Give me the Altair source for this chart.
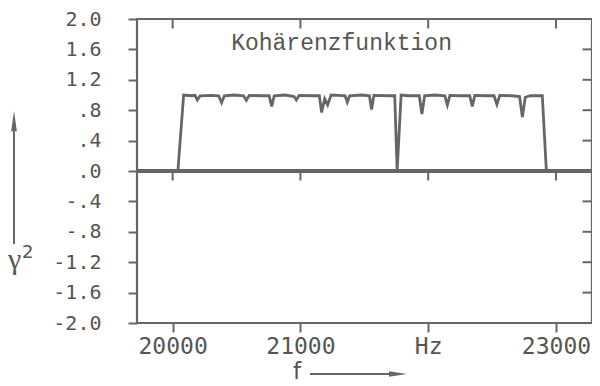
import altair as alt
import pandas as pd

# --- data ---
freq = [19721, 20041, 20086, 20150, 20175, 20193, 20215, 20300, 20360, 20383, 20405,
        20480, 20555, 20577, 20600, 20700, 20755, 20775, 20795, 20880, 20950, 20968,
        20990, 21100, 21148, 21166, 21190, 21213, 21240, 21300, 21350, 21367, 21385,
        21480, 21540, 21557, 21575, 21700, 21738, 21757, 21788, 21850, 21930, 21951,
        21972, 22050, 22130, 22150, 22170, 22250, 22325, 22345, 22365, 22450, 22515,
        22538, 22560, 22650, 22715, 22737, 22760, 22800, 22893, 22925, 23282]
gamma2 = [0.0, 0.0, 1.0, 0.99, 0.995, 0.935, 0.99, 0.995, 0.99, 0.90, 0.99,
          1.0, 0.99, 0.93, 0.995, 0.99, 0.99, 0.85, 0.99, 1.0, 0.98, 0.935,
          0.995, 0.99, 0.99, 0.77, 0.95, 0.87, 1.0, 0.995, 0.99, 0.905, 0.99,
          1.0, 0.99, 0.81, 0.995, 0.99, 0.99, 0.0, 1.0, 0.99, 0.99, 0.75,
          0.99, 1.0, 0.99, 0.87, 0.995, 0.99, 0.99, 0.85, 0.995, 0.99, 0.99,
          0.875, 0.995, 0.99, 0.98, 0.71, 0.97, 0.99, 0.99, 0.0, 0.0]

x_ticks = [20000, 21000, 22000, 23000]
x_labels = ["20000", "21000", "Hz", "23000"]
y_ticks = [2.0, 1.6, 1.2, 0.8, 0.4, 0.0, -0.4, -0.8, -1.2, -1.6, -2.0]
y_labels = ["2.0", "1.6", "1.2", ".8", ".4", ".0", "-.4", "-.8", "-1.2", "-1.6", "-2.0"]
x_domain = [19721, 23282]
y_domain = [-2.0, 2.0]
chart_label = "Kohärenzfunktion"

GREY = "#666666"
TXT = "#555555"

df = pd.DataFrame({"f": freq, "g": gamma2})
xt = pd.DataFrame({"f": x_ticks})
yt = pd.DataFrame({"g": y_ticks[1:-1]})


def expr_map(values, labels, fmt, pyfmt):
    # match on formatted strings (robust to floating point differences)
    keys = "[" + ",".join("'" + format(v, pyfmt).replace("-", "\u2212") + "'" for v in values) + "]"
    labs = "[" + ",".join("'" + s + "'" for s in labels) + "]"
    return f"{labs}[indexof({keys}, format(datum.value, '{fmt}'))]"


xscale = alt.Scale(domain=x_domain, nice=False, zero=False)
yscale = alt.Scale(domain=y_domain, nice=False, zero=False)

line = alt.Chart(df).mark_line(color=GREY, strokeWidth=2.8, strokeJoin="miter").encode(
    x=alt.X("f:Q", scale=xscale, title=None,
            axis=alt.Axis(values=x_ticks, labelExpr=expr_map(x_ticks, x_labels, ".0f", ".0f"),
                          title=None, labelPadding=3, labelFlush=False, tickCount=20,
                          labelOverlap=False, labelFontSize=23)),
    y=alt.Y("g:Q", scale=yscale, title=None,
            axis=alt.Axis(values=y_ticks, labelExpr=expr_map(y_ticks, y_labels, ".1f", ".1f"),
                          title=None, labelPadding=27, labelOverlap=False, tickCount=40,
                          labelFontSize=20, labelFlush=False)),
)

zero = alt.Chart(df).mark_rule(color=GREY, strokeWidth=2.4).encode(y=alt.datum(0))

zero_ticks = alt.Chart(xt).mark_rule(color=GREY, strokeWidth=2).encode(
    x=alt.X("f:Q", title=None), y=alt.datum(0), y2=alt.datum(-0.125))

top_ticks = alt.Chart(xt).mark_rule(color=GREY, strokeWidth=2).encode(
    x=alt.X("f:Q", title=None), y=alt.datum(2.0), y2=alt.datum(1.875))

right_ticks = alt.Chart(yt).mark_rule(color=GREY, strokeWidth=2).encode(
    y=alt.Y("g:Q", title=None), x=alt.datum(x_domain[1]), x2=alt.datum(x_domain[1] - 74))

label = alt.Chart(pd.DataFrame({"t": [chart_label]})).mark_text(
    font="Liberation Mono", fontSize=23, color=TXT, align="center", baseline="alphabetic"
).encode(x=alt.datum(21322), y=alt.datum(1.59), text="t:N")

# axis titles with arrows (drawn in the margins)
ann = pd.DataFrame({"a": [0]})
y_arrow = alt.Chart(ann).mark_rule(color=GREY, strokeWidth=2).encode(
    x=alt.value(-123), y=alt.value(225), y2=alt.value(103))
y_head = alt.Chart(ann).mark_point(
    shape="M0,-1L0.28,1L-0.28,1Z", filled=True, color=GREY, opacity=1, size=420
).encode(x=alt.value(-123), y=alt.value(102))
gam = alt.Chart(pd.DataFrame({"t": ["γ"]})).mark_text(
    font="Liberation Serif", fontSize=30, color=TXT, align="left", baseline="alphabetic"
).encode(x=alt.value(-129), y=alt.value(250), text="t:N")
sup = alt.Chart(pd.DataFrame({"t": ["2"]})).mark_text(
    font="DejaVu Sans", fontSize=18, color=TXT, align="left", baseline="alphabetic"
).encode(x=alt.value(-115), y=alt.value(239), text="t:N")
f_txt = alt.Chart(pd.DataFrame({"t": ["f"]})).mark_text(
    font="DejaVu Sans", fontSize=23, color=TXT, align="center", baseline="alphabetic"
).encode(x=alt.value(160), y=alt.value(360), text="t:N")
x_arrow = alt.Chart(ann).mark_rule(color=GREY, strokeWidth=2).encode(
    x=alt.value(173), x2=alt.value(262), y=alt.value(355))
x_head = alt.Chart(ann).mark_point(
    shape="M1,0L-1,0.3L-1,-0.3Z", filled=True, color=GREY, opacity=1, size=324
).encode(x=alt.value(261), y=alt.value(355))

chart = alt.layer(
    line, zero, zero_ticks, top_ticks, right_ticks, label,
    y_arrow, y_head, gam, sup, f_txt, x_arrow, x_head
).properties(
    width=455, height=304,
    autosize=alt.AutoSizeParams(type="none"),
    padding={"left": 129, "top": 11, "right": 0, "bottom": 63},
).configure_view(
    stroke=GREY, strokeWidth=2.2
).configure_axis(
    grid=False, domain=False, tickColor=GREY, tickWidth=2, tickSize=9,
    labelFont="DejaVu Sans Mono", labelColor=TXT, labelOverlap=False,
)

chart.save("out.html", embed_options={"renderer": "svg", "actions": False})
